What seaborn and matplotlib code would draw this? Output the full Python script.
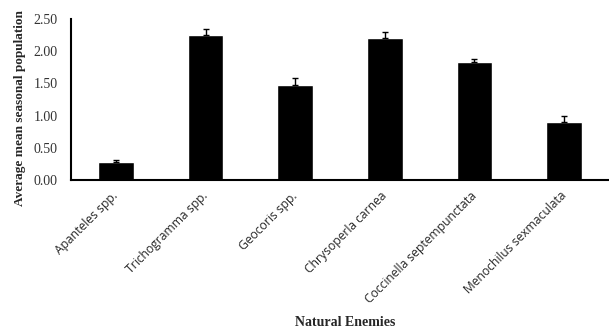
import matplotlib
matplotlib.use("Agg")
import matplotlib.pyplot as plt
import seaborn as sns
import pandas as pd
import numpy as np

categories = ["Apanteles spp.", "Trichogramma spp.", "Geocoris spp.",
              "Chrysoperla carnea", "Coccinella septempunctata", "Menochilus sexmaculata"]
means = [0.28, 2.25, 1.48, 2.20, 1.84, 0.90]
errors = [0.03, 0.09, 0.11, 0.10, 0.04, 0.09]
yticks = [0.0, 0.5, 1.0, 1.5, 2.0, 2.5]

df = pd.DataFrame({"enemy": categories, "mean": means})

sns.set_style("white")
fig = plt.figure(figsize=(6.09, 3.30), dpi=100)
ax = fig.add_axes([71/609, 1 - 180/330, (609 - 71)/609, (180 - 19)/330])

sns.barplot(data=df, x="enemy", y="mean", color="black", width=0.4,
            errorbar=None, ax=ax, saturation=1)
xs = np.arange(len(categories))
ax.errorbar(xs, means, yerr=[np.zeros(len(errors)), errors], fmt="none",
            ecolor="black", elinewidth=1, capsize=2.5, capthick=1)

ax.set_ylim(0, 2.5)
ax.set_xlim(-0.5, -0.5 + (609 - 71) / 91.5)
ax.set_yticks(yticks)
ax.set_yticklabels([f"{v:.2f}" for v in yticks], family="Liberation Serif",
                   fontsize=10, color="#333333")
ax.set_xticks(xs)
ax.set_xticklabels(categories, rotation=45, ha="right", va="center",
                   rotation_mode="anchor", family="Open Sans", fontsize=8.7)
ax.set_xticks(np.arange(len(categories)) + 0.5, minor=True)
ax.tick_params(axis="x", which="major", length=0, pad=10)
ax.tick_params(axis="x", which="minor", length=2.5, width=1.2, direction="out", color="black")
ax.tick_params(axis="y", length=2.5, width=1.2, direction="out", color="black", pad=7)

for s in ["top", "right"]:
    ax.spines[s].set_visible(False)
for s in ["left", "bottom"]:
    ax.spines[s].set_color("black")
    ax.spines[s].set_linewidth(1.5)

ax.set_xlabel("Natural Enemies", family="Liberation Serif", fontweight="bold", fontsize=10)
ax.xaxis.set_label_coords((345 - 71) / (609 - 71), -(323 - 180) / (180 - 19))
ax.xaxis.label.set_va("center")
ax.set_ylabel("Average mean seasonal population", family="Liberation Serif",
              fontweight="bold", fontsize=9.5)
ax.yaxis.set_label_coords(-(71 - 20) / (609 - 71), (180 - 108) / (180 - 19))
ax.yaxis.label.set_va("center")

fig.savefig("out.png", dpi=100)
